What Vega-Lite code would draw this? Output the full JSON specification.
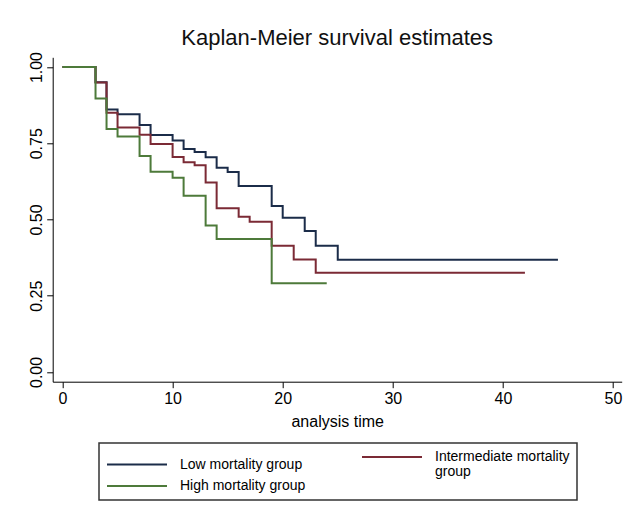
{
  "$schema": "https://vega.github.io/schema/vega-lite/v6.json",
  "autosize": {"type": "none"},
  "width": 569,
  "height": 324.4,
  "padding": {"left": 52.7, "top": 57.3, "right": 5.3, "bottom": 141.3},
  "background": "white",
  "title": {"text": "Kaplan-Meier survival estimates", "fontSize": 22, "font": "Liberation Sans", "fontWeight": "normal", "color": "#111111", "anchor": "middle", "offset": 1},
  "data": {"values": [
    {"group": "Low mortality group", "t": 0, "s": 1.0},
    {"group": "Low mortality group", "t": 3, "s": 0.95},
    {"group": "Low mortality group", "t": 4, "s": 0.861},
    {"group": "Low mortality group", "t": 5, "s": 0.845},
    {"group": "Low mortality group", "t": 7, "s": 0.81},
    {"group": "Low mortality group", "t": 8, "s": 0.777},
    {"group": "Low mortality group", "t": 10, "s": 0.759},
    {"group": "Low mortality group", "t": 11, "s": 0.731},
    {"group": "Low mortality group", "t": 12, "s": 0.721},
    {"group": "Low mortality group", "t": 13, "s": 0.704},
    {"group": "Low mortality group", "t": 14, "s": 0.670},
    {"group": "Low mortality group", "t": 15, "s": 0.656},
    {"group": "Low mortality group", "t": 16, "s": 0.610},
    {"group": "Low mortality group", "t": 19, "s": 0.544},
    {"group": "Low mortality group", "t": 20, "s": 0.506},
    {"group": "Low mortality group", "t": 22, "s": 0.462},
    {"group": "Low mortality group", "t": 23, "s": 0.414},
    {"group": "Low mortality group", "t": 25, "s": 0.368},
    {"group": "Low mortality group", "t": 45, "s": 0.368},
    {"group": "Intermediate mortality group", "t": 0, "s": 1.0},
    {"group": "Intermediate mortality group", "t": 3, "s": 0.949},
    {"group": "Intermediate mortality group", "t": 4, "s": 0.85},
    {"group": "Intermediate mortality group", "t": 5, "s": 0.802},
    {"group": "Intermediate mortality group", "t": 7, "s": 0.778},
    {"group": "Intermediate mortality group", "t": 8, "s": 0.748},
    {"group": "Intermediate mortality group", "t": 10, "s": 0.705},
    {"group": "Intermediate mortality group", "t": 11, "s": 0.688},
    {"group": "Intermediate mortality group", "t": 12, "s": 0.678},
    {"group": "Intermediate mortality group", "t": 13, "s": 0.621},
    {"group": "Intermediate mortality group", "t": 14, "s": 0.537},
    {"group": "Intermediate mortality group", "t": 16, "s": 0.509},
    {"group": "Intermediate mortality group", "t": 17, "s": 0.493},
    {"group": "Intermediate mortality group", "t": 19, "s": 0.414},
    {"group": "Intermediate mortality group", "t": 21, "s": 0.369},
    {"group": "Intermediate mortality group", "t": 23, "s": 0.325},
    {"group": "Intermediate mortality group", "t": 42, "s": 0.325},
    {"group": "High mortality group", "t": 0, "s": 1.0},
    {"group": "High mortality group", "t": 3, "s": 0.897},
    {"group": "High mortality group", "t": 4, "s": 0.797},
    {"group": "High mortality group", "t": 5, "s": 0.772},
    {"group": "High mortality group", "t": 7, "s": 0.708},
    {"group": "High mortality group", "t": 8, "s": 0.657},
    {"group": "High mortality group", "t": 10, "s": 0.637},
    {"group": "High mortality group", "t": 11, "s": 0.578},
    {"group": "High mortality group", "t": 13, "s": 0.480},
    {"group": "High mortality group", "t": 14, "s": 0.436},
    {"group": "High mortality group", "t": 19, "s": 0.291},
    {"group": "High mortality group", "t": 24, "s": 0.291}
  ]},
  "mark": {"type": "line", "interpolate": "step-after", "strokeWidth": 2, "clip": false},
  "encoding": {
    "x": {
      "field": "t", "type": "quantitative",
      "scale": {"domain": [-0.89, 50.79], "nice": false, "zero": false},
      "axis": {"values": [0, 10, 20, 30, 40, 50], "title": "analysis time", "grid": false,
        "domainColor": "#000000", "domainWidth": 1, "tickColor": "#000000", "tickSize": 6, "tickWidth": 1,
        "labelFont": "Liberation Sans", "labelFontSize": 16, "labelColor": "#000000", "labelPadding": 3,
        "titleFont": "Liberation Sans", "titleFontSize": 16, "titleFontWeight": "normal", "titleColor": "#000000", "titlePadding": 7}
    },
    "y": {
      "field": "s", "type": "quantitative",
      "scale": {"domain": [-0.032, 1.032], "nice": false, "zero": false},
      "axis": {"values": [0, 0.25, 0.5, 0.75, 1], "format": ".2f", "title": null, "grid": false,
        "domainColor": "#000000", "domainWidth": 1, "tickColor": "#000000", "tickSize": 6, "tickWidth": 1,
        "labelFont": "Liberation Sans", "labelFontSize": 16, "labelColor": "#000000",
        "labelAngle": -90, "labelAlign": "center", "labelBaseline": "bottom", "labelPadding": 2}
    },
    "color": {
      "field": "group", "type": "nominal",
      "scale": {"domain": ["Low mortality group", "Intermediate mortality group", "High mortality group"],
                "range": ["#1b2c49", "#7b2a35", "#4d7a3a"]},
      "legend": {
        "orient": "none", "legendX": 46.3, "legendY": 385.7, "columns": 2, "direction": "horizontal", "title": null,
        "symbolType": "M-1,0H9", "symbolSize": 144, "symbolStrokeWidth": 2,
        "labelFont": "Liberation Sans", "labelFontSize": 14, "labelColor": "#000000", "labelOffset": 60, "labelLimit": 400,
        "labelExpr": "datum.label == 'Intermediate mortality group' ? ['Intermediate mortality', 'group'] : datum.label",
        "rowPadding": 0, "columnPadding": 52, "padding": 7, "strokeColor": "#333333",
        "encode": {
          "legend": {"update": {"strokeWidth": {"value": 1.5}}},
          "labels": {"update": {"lineHeight": {"value": 15}}}
        }
      }
    }
  },
  "config": {"view": {"stroke": null}}
}
